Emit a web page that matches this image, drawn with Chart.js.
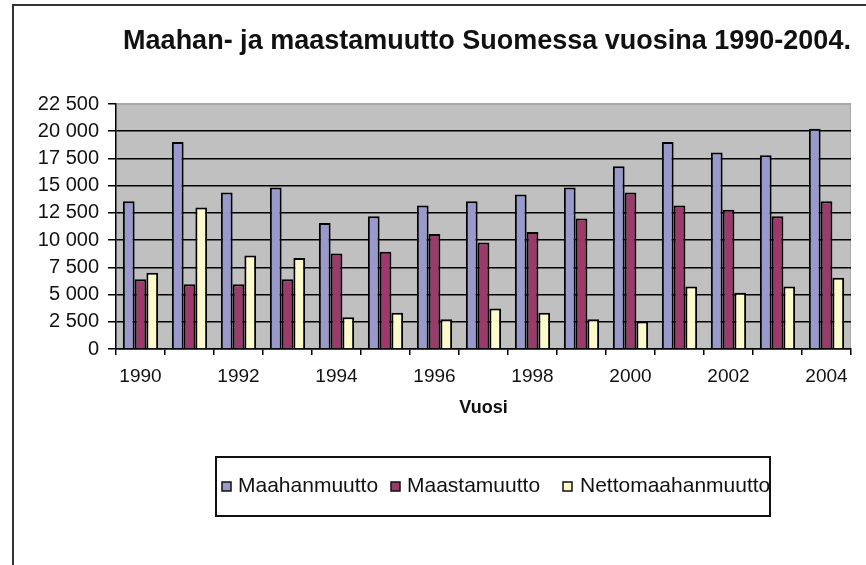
<!DOCTYPE html>
<html>
<head>
<meta charset="utf-8">
<title>Maahan- ja maastamuutto Suomessa vuosina 1990-2004</title>
<script src="https://cdn.jsdelivr.net/npm/chart.js@4/dist/chart.umd.min.js"></script>
<style>
    html, body { margin: 0; padding: 0; background: #ffffff; }
    #chartWrap { position: relative; width: 866px; height: 565px; }
</style>
</head>
<body>
<div id="chartWrap"><canvas id="migrationChart" width="866" height="565"></canvas></div>
<script>
// data
const years = ['1990', '1991', '1992', '1993', '1994', '1995', '1996', '1997',
               '1998', '1999', '2000', '2001', '2002', '2003', '2004'];
const maahanmuutto = [13560, 19000, 14380, 14840, 11580, 12200, 13180, 13580,
                      14200, 14840, 16780, 19020, 18040, 17790, 20220];
const maastamuutto = [6400, 5950, 5950, 6400, 8760, 8940, 10570, 9770,
                      10750, 11990, 14380, 13180, 12780, 12200, 13580];
const nettomaahanmuutto = [7000, 13000, 8580, 8360, 2920, 3320, 2730, 3720,
                           3320, 2730, 2520, 5750, 5160, 5750, 6550];
const seriesNames = ['Maahanmuutto', 'Maastamuutto', 'Nettomaahanmuutto'];
const yTicks = [0, 2500, 5000, 7500, 10000, 12500, 15000, 17500, 20000, 22500];

const titleText = 'Maahan- ja maastamuutto Suomessa vuosina 1990-2004.';
const xTitleText = 'Vuosi';

const colors = ['#9999cc', '#9c3a6c', '#fcfacb'];
const FONT = "'Liberation Sans', Arial, sans-serif";

Chart.defaults.font.family = FONT;
Chart.defaults.color = '#111111';

function formatThousands(value) {
    return String(value).replace(/\B(?=(\d{3})+(?!\d))/g, ' ');
}

// white page, outer frame and the grey plot area
const backgroundPlugin = {
    id: 'excelBackground',
    beforeDraw(chart) {
        const { ctx, chartArea } = chart;
        ctx.save();
        ctx.fillStyle = '#ffffff';
        ctx.fillRect(0, 0, chart.width, chart.height);

        ctx.strokeStyle = '#333333';
        ctx.lineWidth = 2;
        ctx.beginPath();
        ctx.moveTo(13, chart.height);
        ctx.lineTo(13, 5);
        ctx.lineTo(chart.width, 5);
        ctx.stroke();

        ctx.fillStyle = '#c0c0c0';
        ctx.fillRect(chartArea.left, chartArea.top,
                     chartArea.right - chartArea.left, chartArea.bottom - chartArea.top);
        ctx.strokeStyle = '#a8a8a8';
        ctx.lineWidth = 1;
        ctx.beginPath();
        ctx.moveTo(chartArea.left, chartArea.top + 0.5);
        ctx.lineTo(chartArea.right - 0.5, chartArea.top + 0.5);
        ctx.lineTo(chartArea.right - 0.5, chartArea.bottom);
        ctx.stroke();
        ctx.restore();
    }
};

// title and the boxed legend, placed like in the Excel original
const overlayPlugin = {
    id: 'excelOverlay',
    afterDraw(chart) {
        const { ctx } = chart;
        ctx.save();
        ctx.fillStyle = '#111111';
        ctx.font = 'bold 27px ' + FONT;
        ctx.textAlign = 'center';
        ctx.textBaseline = 'middle';
        ctx.fillText(titleText, 487, 42);

        // legend box
        const box = { left: 216, top: 457, right: 770, bottom: 516 };
        ctx.fillStyle = '#ffffff';
        ctx.fillRect(box.left, box.top, box.right - box.left, box.bottom - box.top);
        ctx.strokeStyle = '#111111';
        ctx.lineWidth = 2;
        ctx.strokeRect(box.left, box.top, box.right - box.left, box.bottom - box.top);

        // the last label runs into the box edge in the original
        ctx.beginPath();
        ctx.rect(box.left + 1, box.top + 1, box.right - box.left - 2, box.bottom - box.top - 2);
        ctx.clip();

        const squareX = [222, 391, 563];
        const textX = [238, 407, 580];
        ctx.font = '21px ' + FONT;
        ctx.textAlign = 'left';
        chart.data.datasets.forEach((ds, i) => {
            ctx.fillStyle = ds.backgroundColor;
            ctx.fillRect(squareX[i], 482, 9, 9);
            ctx.strokeStyle = '#111111';
            ctx.lineWidth = 1.5;
            ctx.strokeRect(squareX[i], 482, 9, 9);
            ctx.fillStyle = '#111111';
            ctx.fillText(ds.label, textX[i], 486);
        });
        ctx.restore();
    }
};

const ctx = document.getElementById('migrationChart');
new Chart(ctx, {
    type: 'bar',
    data: {
        labels: years,
        datasets: [maahanmuutto, maastamuutto, nettomaahanmuutto].map((values, i) => ({
            label: seriesNames[i],
            data: values,
            backgroundColor: colors[i],
            borderColor: '#000000',
            borderWidth: 2,
            categoryPercentage: 0.72,
            barPercentage: 1.0,
        })),
    },
    options: {
        responsive: false,
        animation: false,
        layout: { padding: { left: 0, top: 104, right: 15, bottom: 136 } },
        plugins: {
            legend: { display: false },
            title: { display: false },
            tooltip: { enabled: false },
        },
        scales: {
            x: {
                grid: {
                    offset: true,
                    drawOnChartArea: false,
                    drawTicks: true,
                    tickLength: 6,
                    color: '#000000',
                    lineWidth: 1.5,
                },
                border: { display: true, color: '#000000', width: 1.5 },
                ticks: {
                    autoSkip: false,
                    maxRotation: 0,
                    padding: 10,
                    color: '#111111',
                    font: { size: 19 },
                    callback: (value, index) => (index % 2 === 0 ? years[index] : ''),
                },
                title: {
                    display: true,
                    text: xTitleText,
                    color: '#111111',
                    font: { size: 18, weight: 'bold' },
                    padding: { top: 0, bottom: 10 },
                },
                afterFit(scale) { scale.height = 80; },
            },
            y: {
                min: 0,
                max: 22500,
                afterBuildTicks(scale) { scale.ticks = yTicks.map(v => ({ value: v })); },
                grid: {
                    color: (c) => (c.tick && c.tick.value === 22500 ? '#a8a8a8' : '#000000'),
                    tickColor: '#000000',
                    lineWidth: 1.5,
                    tickLength: 8,
                },
                border: { display: true, color: '#000000', width: 1.5 },
                ticks: {
                    padding: 9,
                    color: '#111111',
                    font: { size: 20 },
                    callback: (value) => formatThousands(value),
                },
                afterFit(scale) { scale.width = 116; },
            },
        },
    },
    plugins: [backgroundPlugin, overlayPlugin],
});
</script>
</body>
</html>
